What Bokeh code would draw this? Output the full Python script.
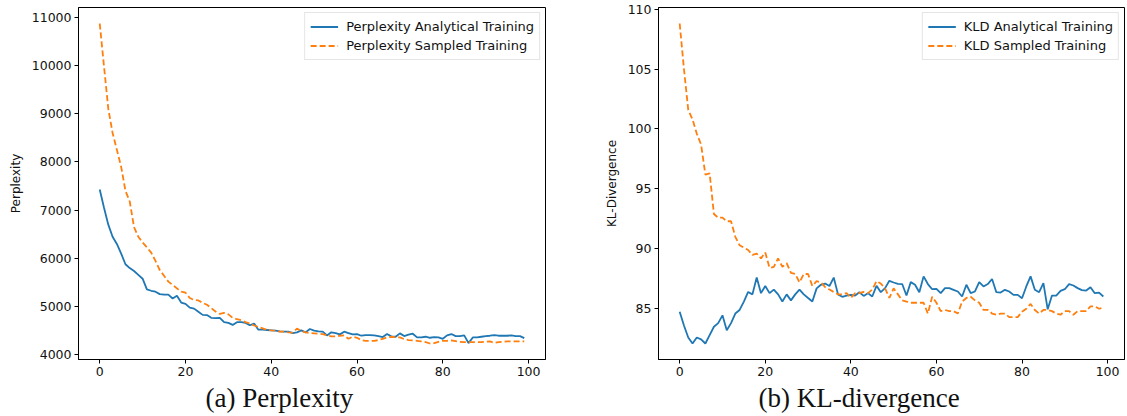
from bokeh.plotting import figure
from bokeh.layouts import row
from bokeh.models import Range1d, SingleIntervalTicker, Title, Legend, LegendItem
from bokeh.embed import file_html
from bokeh.resources import INLINE

epochs = list(range(100))

ppl_analytical = [
    7430, 7050, 6700, 6450, 6300, 6100, 5880, 5800, 5740, 5660,
    5580, 5360, 5330, 5310, 5260, 5250, 5250, 5170, 5225, 5085,
    5060, 4980, 4960, 4895, 4830, 4826, 4770, 4762, 4769, 4680,
    4665, 4622, 4679, 4679, 4665, 4615, 4650, 4524, 4524, 4517,
    4510, 4503, 4489, 4482, 4482, 4454, 4468, 4510, 4468, 4538,
    4503, 4489, 4482, 4405, 4468, 4454, 4426, 4482, 4454, 4426,
    4433, 4398, 4412, 4412, 4405, 4391, 4370, 4433, 4384, 4377,
    4447, 4391, 4419, 4440, 4363, 4363, 4377, 4356, 4370, 4363,
    4335, 4405, 4433, 4391, 4391, 4405, 4244, 4363, 4363, 4377,
    4391, 4398, 4412, 4398, 4398, 4398, 4405, 4391, 4391, 4349,
]

ppl_sampled = [
    10870, 9980, 9100, 8600, 8250, 7900, 7400, 7180, 6650, 6450,
    6330, 6230, 6120, 5950, 5760, 5640, 5520, 5450, 5380, 5310,
    5290, 5180, 5140, 5130, 5080, 5040, 4970, 4900, 4850, 4870,
    4840, 4770, 4740, 4720, 4680, 4650, 4610, 4580, 4550, 4520,
    4510, 4503, 4482, 4482, 4468, 4461, 4545, 4496, 4468, 4454,
    4447, 4440, 4433, 4405, 4384, 4384, 4398, 4405, 4335, 4377,
    4356, 4307, 4293, 4293, 4293, 4307, 4335, 4363, 4377, 4370,
    4363, 4328, 4307, 4300, 4293, 4279, 4265, 4237, 4244, 4272,
    4293, 4293, 4300, 4286, 4272, 4265, 4265, 4265, 4265, 4265,
    4272, 4279, 4251, 4265, 4272, 4279, 4279, 4279, 4279, 4279,
]

kld_analytical = [
    84.75, 83.6, 82.6, 82.1, 82.6, 82.45, 82.1, 82.8, 83.5, 83.8,
    84.45, 83.2, 83.8, 84.6, 84.9, 85.6, 86.4, 86.2, 87.6, 86.3,
    86.9, 86.3, 86.6, 86.2, 85.6, 86.2, 85.7, 86.2, 86.6, 86.2,
    85.9, 85.6, 86.7, 87.0, 87.1, 86.9, 87.6, 86.2, 86.0, 86.1,
    86.16, 86.10, 86.38, 86.07, 86.30, 86.02, 86.91, 86.38, 86.72, 87.33,
    87.19, 87.08, 87.06, 86.10, 87.22, 87.0, 86.38, 87.70, 87.06, 86.63,
    86.66, 86.30, 86.72, 86.72, 86.58, 86.44, 86.02, 87.0, 86.30, 86.44,
    87.22, 86.86, 87.06, 87.48, 86.38, 86.35, 86.58, 86.44, 86.16, 86.16,
    85.88, 86.86, 87.70, 86.58, 86.38, 87.14, 84.95, 86.10, 86.10, 86.49,
    86.63, 87.06, 86.94, 86.72, 86.55, 86.52, 86.80, 86.30, 86.35, 86.02,
]

kld_sampled = [
    108.8, 105.0, 101.6, 100.8, 99.6, 98.7, 96.2, 96.3, 92.9, 92.6,
    92.6, 92.3, 92.3, 91.0, 90.3, 90.1, 89.9, 89.5, 89.6, 89.2,
    89.7, 88.4, 88.5, 89.2, 88.5, 88.8, 88.0, 87.9, 87.2, 87.9,
    87.9, 86.9, 87.3, 87.2, 86.8, 86.6, 86.4, 86.2, 86.2, 86.3,
    85.9, 86.3, 86.3, 86.4, 86.3, 86.6, 87.3, 87.1, 86.7, 85.9,
    86.7, 86.2, 85.7, 85.6, 85.5, 85.5, 85.5, 85.5, 84.6, 86.0,
    85.5, 84.8, 84.9, 84.8, 84.8, 84.6, 85.6, 85.9, 86.0, 85.7,
    85.5, 84.9, 84.9, 84.6, 84.5, 84.6, 84.6, 84.3, 84.3, 84.3,
    84.75, 85.0, 85.4, 84.9, 84.6, 84.9, 84.9, 84.8, 84.6, 84.5,
    84.8, 84.8, 84.5, 84.8, 84.8, 84.8, 85.2, 85.2, 85.0, 85.1,
]

panels = [
    dict(a=ppl_analytical, s=ppl_sampled, ylabel="Perplexity",
         la="Perplexity Analytical Training", ls="Perplexity Sampled Training",
         caption="(a) Perplexity", yint=1000),
    dict(a=kld_analytical, s=kld_sampled, ylabel="KL-Divergence",
         la="KLD Analytical Training", ls="KLD Sampled Training",
         caption="(b) KL-divergence", yint=5),
]

BLUE = "#1f77b4"
ORANGE = "#ff7f0e"
TICK_FONT = "12.5px"
SANS = "DejaVu Sans"

geom = [dict(width=558, left=78, right=13, cap_offset=127),
        dict(width=567, left=100, right=1, cap_offset=100)]

figs = []
for cfg, g in zip(panels, geom):
    xs = epochs
    allv = cfg["a"] + cfg["s"]
    ymin, ymax = min(allv), max(allv)
    ypad = 0.05 * (ymax - ymin)
    xpad = 0.05 * (max(xs) - min(xs))
    p = figure(width=g["width"], height=414, output_backend="svg",
               toolbar_location=None,
               x_range=Range1d(min(xs) - xpad, max(xs) + xpad),
               y_range=Range1d(ymin - ypad, ymax + ypad),
               min_border_left=g["left"], min_border_right=g["right"],
               min_border_top=7, min_border_bottom=0)
    p.grid.visible = False
    p.outline_line_color = "black"
    p.outline_line_width = 1
    p.background_fill_color = "white"
    p.border_fill_color = "white"

    r1 = p.line(xs, cfg["a"], line_color=BLUE, line_width=1.8)
    r2 = p.line(xs, cfg["s"], line_color=ORANGE, line_width=1.8, line_dash="6 3")

    p.xaxis.ticker = SingleIntervalTicker(interval=20)
    p.yaxis.ticker = SingleIntervalTicker(interval=cfg["yint"])
    for ax in (p.xaxis[0], p.yaxis[0]):
        ax.axis_line_color = "black"
        ax.major_tick_line_color = "black"
        ax.minor_tick_line_color = None
        ax.major_tick_in = 0
        ax.major_tick_out = 4
        ax.major_label_text_font = SANS
        ax.major_label_text_font_size = TICK_FONT
        ax.major_label_text_color = "#111111"
        ax.major_label_standoff = 3
    p.yaxis.axis_label = cfg["ylabel"]
    p.yaxis.axis_label_text_font = SANS
    p.yaxis.axis_label_text_font_size = "12px"
    p.yaxis.axis_label_text_font_style = "normal"
    p.yaxis.axis_label_text_color = "#111111"
    p.yaxis.axis_label_standoff = 6

    legend = Legend(items=[LegendItem(label=cfg["la"], renderers=[r1]),
                           LegendItem(label=cfg["ls"], renderers=[r2])],
                    location="top_right")
    legend.label_text_font = SANS
    legend.label_text_font_size = "13px"
    legend.label_text_color = "#111111"
    legend.border_line_color = "#cccccc"
    legend.border_line_width = 1
    legend.background_fill_alpha = 0.8
    legend.glyph_width = 28
    legend.glyph_height = 17
    legend.label_height = 17
    legend.label_standoff = 8
    legend.spacing = 2
    legend.padding = 5
    legend.margin = 5
    p.add_layout(legend, "center")

    cap = Title(text=cfg["caption"], align="left", offset=g["cap_offset"],
                text_font="Liberation Serif", text_font_size="27px",
                text_font_style="normal", text_color="#111111", standoff=4)
    p.add_layout(cap, "below")
    figs.append(p)

layout = row(*figs)
open("out.html", "w").write(file_html(layout, INLINE))
